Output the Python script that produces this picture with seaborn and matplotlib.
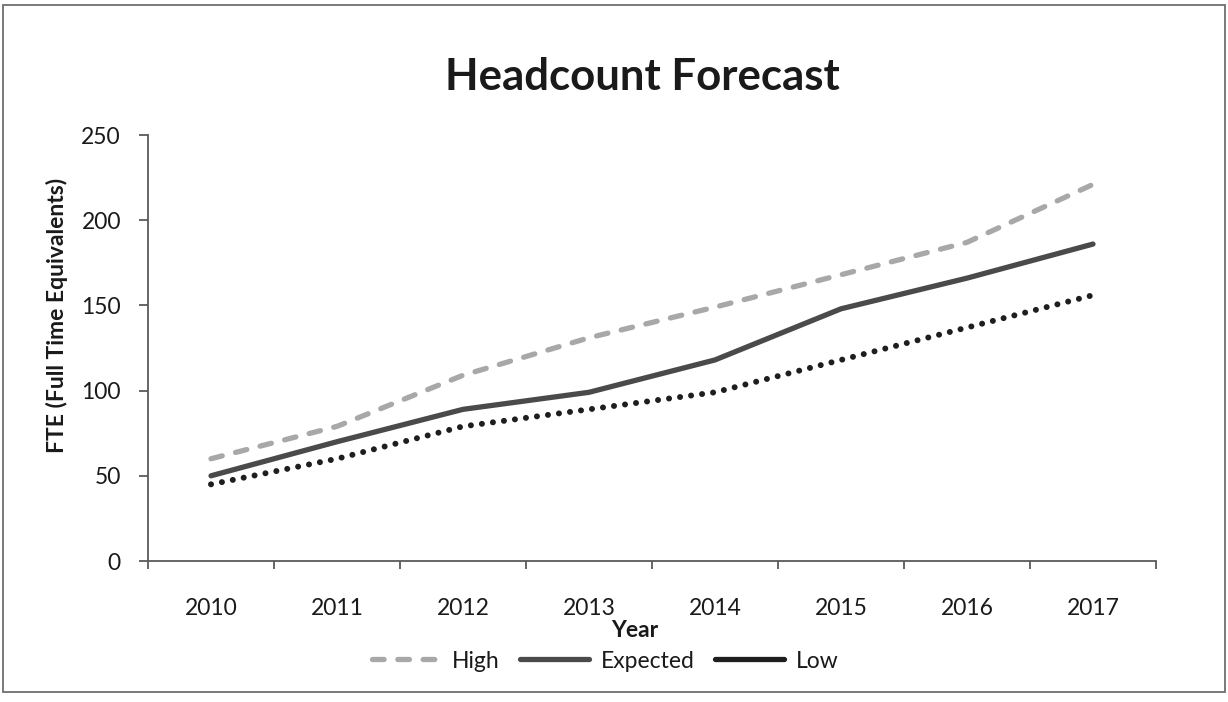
import numpy as np
import pandas as pd
import seaborn as sns
import matplotlib
matplotlib.use("Agg")
import matplotlib.pyplot as plt
from matplotlib.lines import Line2D
from matplotlib.patches import Rectangle

# ---- data ----
years = ["2010", "2011", "2012", "2013", "2014", "2015", "2016", "2017"]
high = [60, 79, 109, 131, 149, 168, 187, 221]
expected = [50, 70, 89, 99, 118, 148, 166, 186]
low = [45, 60, 79, 89, 99, 118, 137, 156]
series_names = ["High", "Expected", "Low"]
y_ticks = [0, 50, 100, 150, 200, 250]

colors = {"High": "#A8A8A8", "Expected": "#4A4A4A", "Low": "#1E1E1E"}
dash_map = {"High": (2.2, 2.6), "Expected": "", "Low": (0.01, 1.85)}

sns.set_theme(style="white")
plt.rcParams["font.family"] = ["Lato", "DejaVu Sans"]
text_color = "#1A1A1A"
fs = 16.5

df = pd.DataFrame({
    "pos": list(range(len(years))) * 3,
    "FTE": high + expected + low,
    "Series": sum([[s] * len(years) for s in series_names], []),
})

W, H = 1228, 702
fig = plt.figure(figsize=(W / 100, H / 100), dpi=100)
fig.patch.set_facecolor("white")
ax = fig.add_axes([148 / W, 1 - 561 / H, 1008 / W, 426 / H])

sns.lineplot(
    data=df, x="pos", y="FTE", hue="Series", style="Series",
    hue_order=series_names, style_order=series_names,
    palette=colors, dashes=dash_map, linewidth=3.8,
    dash_capstyle="round", solid_capstyle="round",
    legend=False, sort=False, ax=ax,
)
# slightly heavier dots for the dotted "Low" series
ax.lines[2].set_linewidth(4.3)

ax.set_xlim(-0.5, len(years) - 0.5)
ax.set_ylim(0, 250)
ax.set_yticks(y_ticks)
ax.set_yticklabels([str(v) for v in y_ticks])

# category axis: ticks between categories, labels at centres
ax.set_xticks(np.arange(-0.5, len(years), 1.0))
ax.set_xticklabels([])
ax.set_xticks(range(len(years)), minor=True)
ax.set_xticklabels(years, minor=True)

axis_color = "#5A5A5A"
for s in ["top", "right"]:
    ax.spines[s].set_visible(False)
for s in ["left", "bottom"]:
    ax.spines[s].set_color(axis_color)
    ax.spines[s].set_linewidth(1.3)

ax.tick_params(axis="x", which="major", length=6, width=1.3, color=axis_color, direction="out", bottom=True)
ax.tick_params(axis="x", which="minor", length=0, pad=26.5, labelsize=fs, labelcolor=text_color, bottom=True)
ax.tick_params(axis="y", which="major", length=6.5, width=1.3, color=axis_color, direction="out",
               left=True, pad=13, labelsize=fs, labelcolor=text_color)
ax.grid(False)

ax.set_xlabel("Year", fontsize=fs, fontweight="bold", color=text_color)
ax.xaxis.set_label_coords((635 - 148) / 1008, (561 - 620) / 426)
ax.set_ylabel("FTE (Full Time Equivalents)", fontsize=fs, fontweight="bold", color=text_color)
ax.yaxis.set_label_coords((57 - 148) / 1008, (561 - 315) / 426)
ax.yaxis.label.set_verticalalignment("center")

fig.text(642 / W, 1 - 90 / H, "Headcount Forecast", ha="center", va="baseline",
         fontsize=31.5, fontweight="bold", color=text_color)

handles = [
    Line2D([], [], color=colors["High"], lw=3.8, dashes=(2.2, 2.6), dash_capstyle="round"),
    Line2D([], [], color=colors["Expected"], lw=3.8, solid_capstyle="round"),
    Line2D([], [], color=colors["Low"], lw=3.8, solid_capstyle="round"),
]
leg = fig.legend(handles, series_names, loc="center", ncol=3,
                 bbox_to_anchor=(605 / W, 1 - 661 / H), frameon=False,
                 fontsize=fs, handlelength=3.0, handletextpad=0.5, columnspacing=0.9)
for t in leg.get_texts():
    t.set_color(text_color)

fig.add_artist(Rectangle((3 / W, 1 - 692 / H), 1222 / W, 687 / H, transform=fig.transFigure,
                         fill=False, edgecolor="#6E6E6E", linewidth=1.3))

fig.savefig("out.png", dpi=100, facecolor="white")
